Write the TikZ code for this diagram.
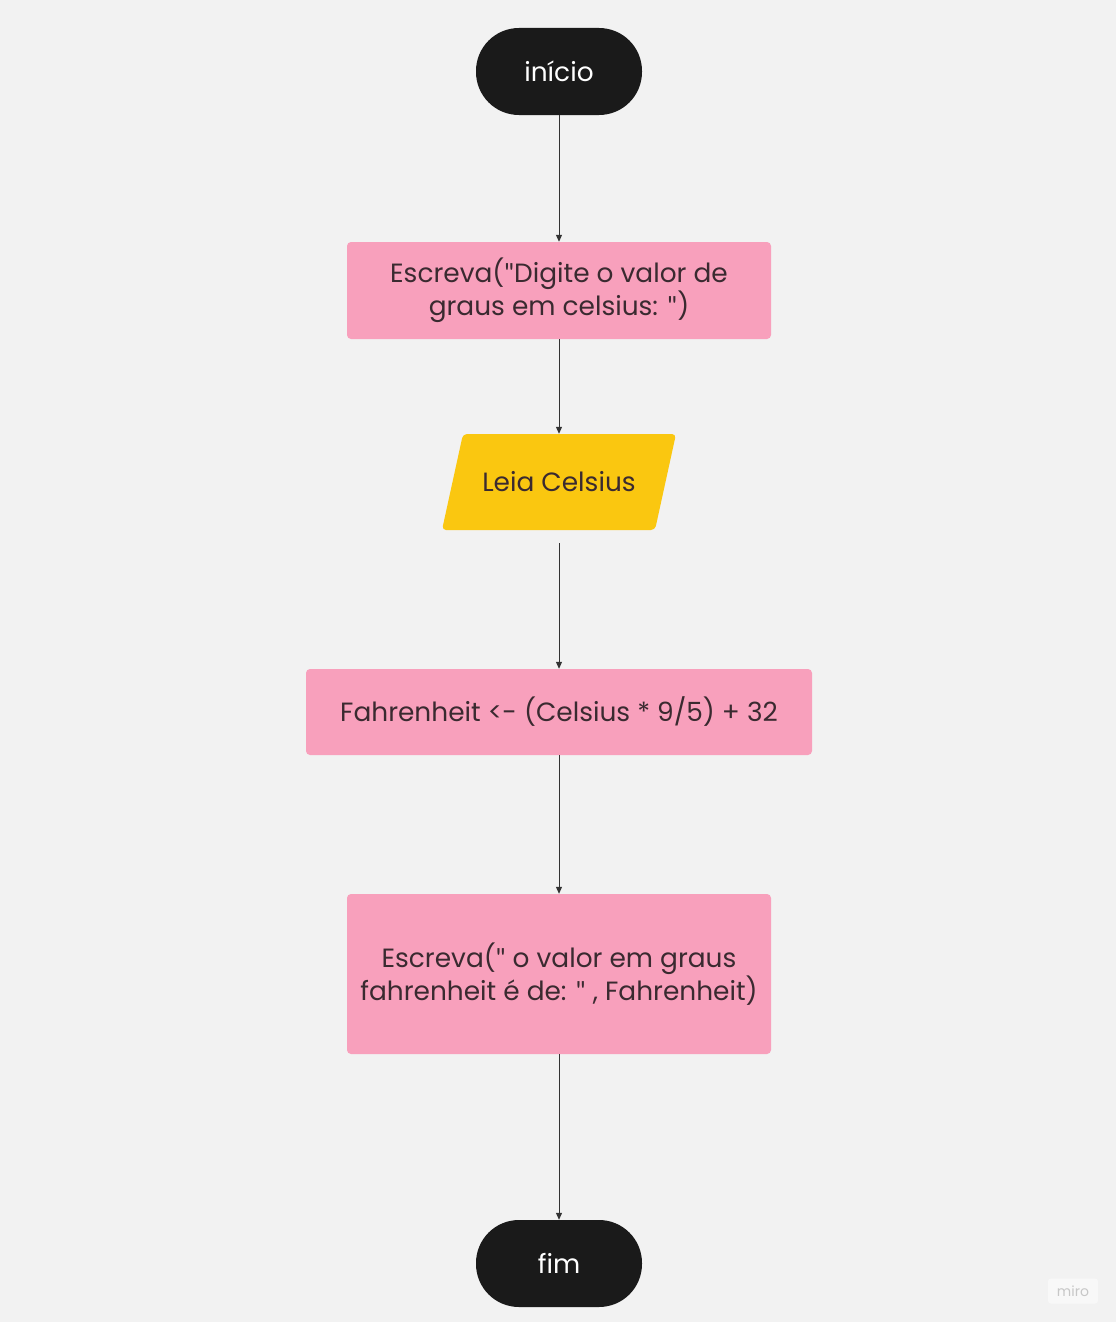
\documentclass[tikz,border=0pt]{standalone}
\usepackage{fontspec}
\setmainfont{Poppins}
\newfontfamily\qfont{Lato}
\usetikzlibrary{arrows.meta}
\definecolor{bg}{HTML}{F2F2F2}
\definecolor{termfill}{HTML}{1A1A1A}
\definecolor{pinkfill}{HTML}{F8A0BC}
\definecolor{yellowfill}{HTML}{FAC710}
\definecolor{txt}{HTML}{3A2A30}
\definecolor{linec}{HTML}{333333}
\newcommand{\qd}{{\qfont\symbol{"22}}}
\tikzset{
  term/.style={fill=termfill, text=white, rounded corners=43pt, minimum width=166pt, minimum height=87pt, inner sep=0pt, font=\fontsize{26.4}{32}\selectfont},
  procbox/.style={fill=pinkfill, text=txt, rounded corners=4pt, inner sep=0pt, align=center, font=\fontsize{26.4}{31.5}\selectfont},
  iobox/.style={text=txt, minimum width=213pt, minimum height=96pt, inner sep=0pt, font=\fontsize{26.4}{32}\selectfont},
  conn/.style={draw=linec, line width=1pt, -{Triangle[length=7pt,width=6pt]}},
}
\begin{document}
\begin{tikzpicture}[x=1pt,y=-1pt]
\fill[bg] (0,0) rectangle (1116,1322);
\useasboundingbox (0,0) rectangle (1116,1322);
\node[term] (start) at (559,71.5) {início};
\node[procbox, minimum width=424pt, minimum height=97pt] (b1) at (559,290.5) {Escreva(\qd Digite o valor de\\graus em celsius: \qd)};
\fill[yellowfill, rounded corners=4pt] (463,434) -- (676,434) -- (655,530) -- (442,530) -- cycle;
\node[iobox] (leia) at (559,482) {Leia Celsius};
\node[procbox, minimum width=506pt, minimum height=86pt] (b3) at (559,712) {Fahrenheit <- (Celsius * 9/5) + 32};
\node[procbox, minimum width=424pt, minimum height=160pt] (b4) at (559,974) {Escreva(\qd{} o valor em graus\\fahrenheit é de: \qd{} , Fahrenheit)};
\node[term] (fim) at (559,1263.5) {fim};
\draw[conn] (start) -- (b1);
\draw[conn] (b1) -- (leia);
\draw[conn, shorten <=13pt] (leia) -- (b3);
\draw[conn] (b3) -- (b4);
\draw[conn] (b4) -- (fim);
\node[fill=white, fill opacity=0.5, text opacity=1, text=black!22, rounded corners=3pt, minimum width=50pt, minimum height=25pt, inner sep=0pt, font=\fontsize{14}{14}\selectfont] (wm) at (1073,1291) {miro};
\end{tikzpicture}
\end{document}
